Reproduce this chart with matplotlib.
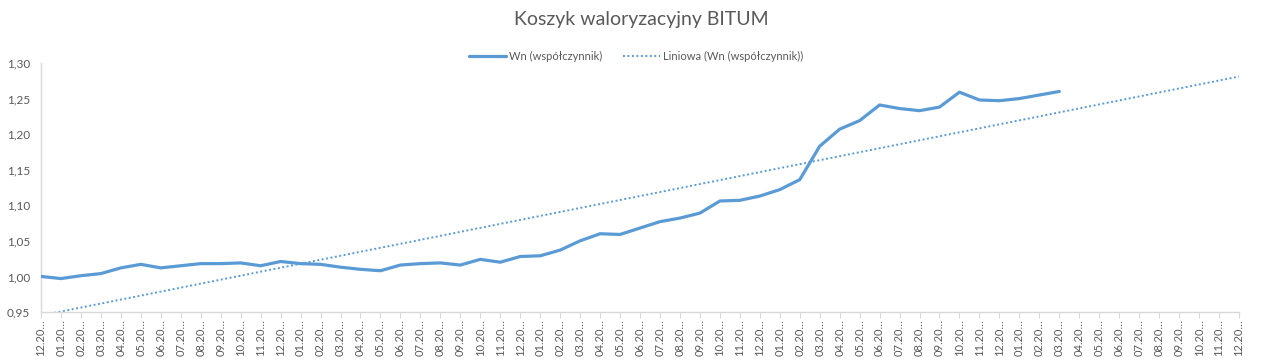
import numpy as np
import matplotlib
matplotlib.use("Agg")
import matplotlib.pyplot as plt

plt.rcParams['font.family'] = ['Lato', 'DejaVu Sans']

# ---- data ----
months = ["12"] + [f"{m:02d}" for m in range(1, 13)] * 4 + [f"{m:02d}" for m in range(1, 13)]
tick_labels = [m + ".20…" for m in months]  # 61 categories (truncated as in source)

wn_values = [1.000, 0.997, 1.001, 1.004, 1.012, 1.017, 1.012, 1.015, 1.018, 1.018,
             1.019, 1.015, 1.021, 1.018, 1.017, 1.013, 1.010, 1.008, 1.016, 1.018,
             1.019, 1.016, 1.024, 1.020, 1.028, 1.029, 1.037, 1.050, 1.060, 1.059,
             1.068, 1.077, 1.082, 1.089, 1.106, 1.107, 1.113, 1.122, 1.136, 1.183,
             1.207, 1.219, 1.241, 1.236, 1.233, 1.238, 1.259, 1.248, 1.247, 1.250,
             1.255, 1.260]

title = "Koszyk waloryzacyjny BITUM"
series_name = "Wn (współczynnik)"
trend_name = "Liniowa (Wn (współczynnik))"

# ---- plot ----
fig = plt.figure(figsize=(12.65, 3.61), dpi=100)
ax = fig.add_axes([41/1265, 1-312/361, (1239-41)/1265, (312-63)/361])

blue = "#5B9BD5"
x_data = np.arange(len(wn_values))
x_all = np.arange(len(tick_labels))
coef = np.polyfit(x_data, wn_values, 1)
trend = np.polyval(coef, x_all)

ax.plot(x_data, wn_values, color=blue, lw=2.3, solid_capstyle='round',
        solid_joinstyle='round', label=series_name, zorder=3)
ax.plot(x_all, trend, color=blue, lw=1.4, linestyle=(0, (1, 1.3)),
        label=trend_name, zorder=2)

ax.set_xlim(0, len(tick_labels) - 1)
ax.set_ylim(0.95, 1.30)
yt = np.arange(0.95, 1.3001, 0.05)
ax.set_yticks(yt)
ax.set_yticklabels([f"{v:.2f}".replace(".", ",") for v in yt])
ax.set_xticks(x_all)
ax.set_xticklabels(tick_labels, rotation=90)

for s in ["top", "right"]:
    ax.spines[s].set_visible(False)
ax.spines["left"].set_color("#D9D9D9")
ax.spines["bottom"].set_color("#D9D9D9")
ax.spines["left"].set_linewidth(1.0)
ax.spines["bottom"].set_linewidth(1.0)
ax.tick_params(axis='y', length=0, labelsize=8.5, labelcolor="#595959", pad=8)
ax.tick_params(axis='x', length=4, color="#D9D9D9", labelsize=8, labelcolor="#595959", pad=1)

fig.text(0.507, 1-20/361, title, ha='center', va='center', fontsize=14, color="#595959")
leg = fig.legend(loc='center', bbox_to_anchor=(0.503, 1-56/361), ncol=2, frameon=False,
                 fontsize=8, handlelength=3.3, columnspacing=1.9, handletextpad=0.3)
for t in leg.get_texts():
    t.set_color("#595959")

fig.savefig("out.png", dpi=100)
